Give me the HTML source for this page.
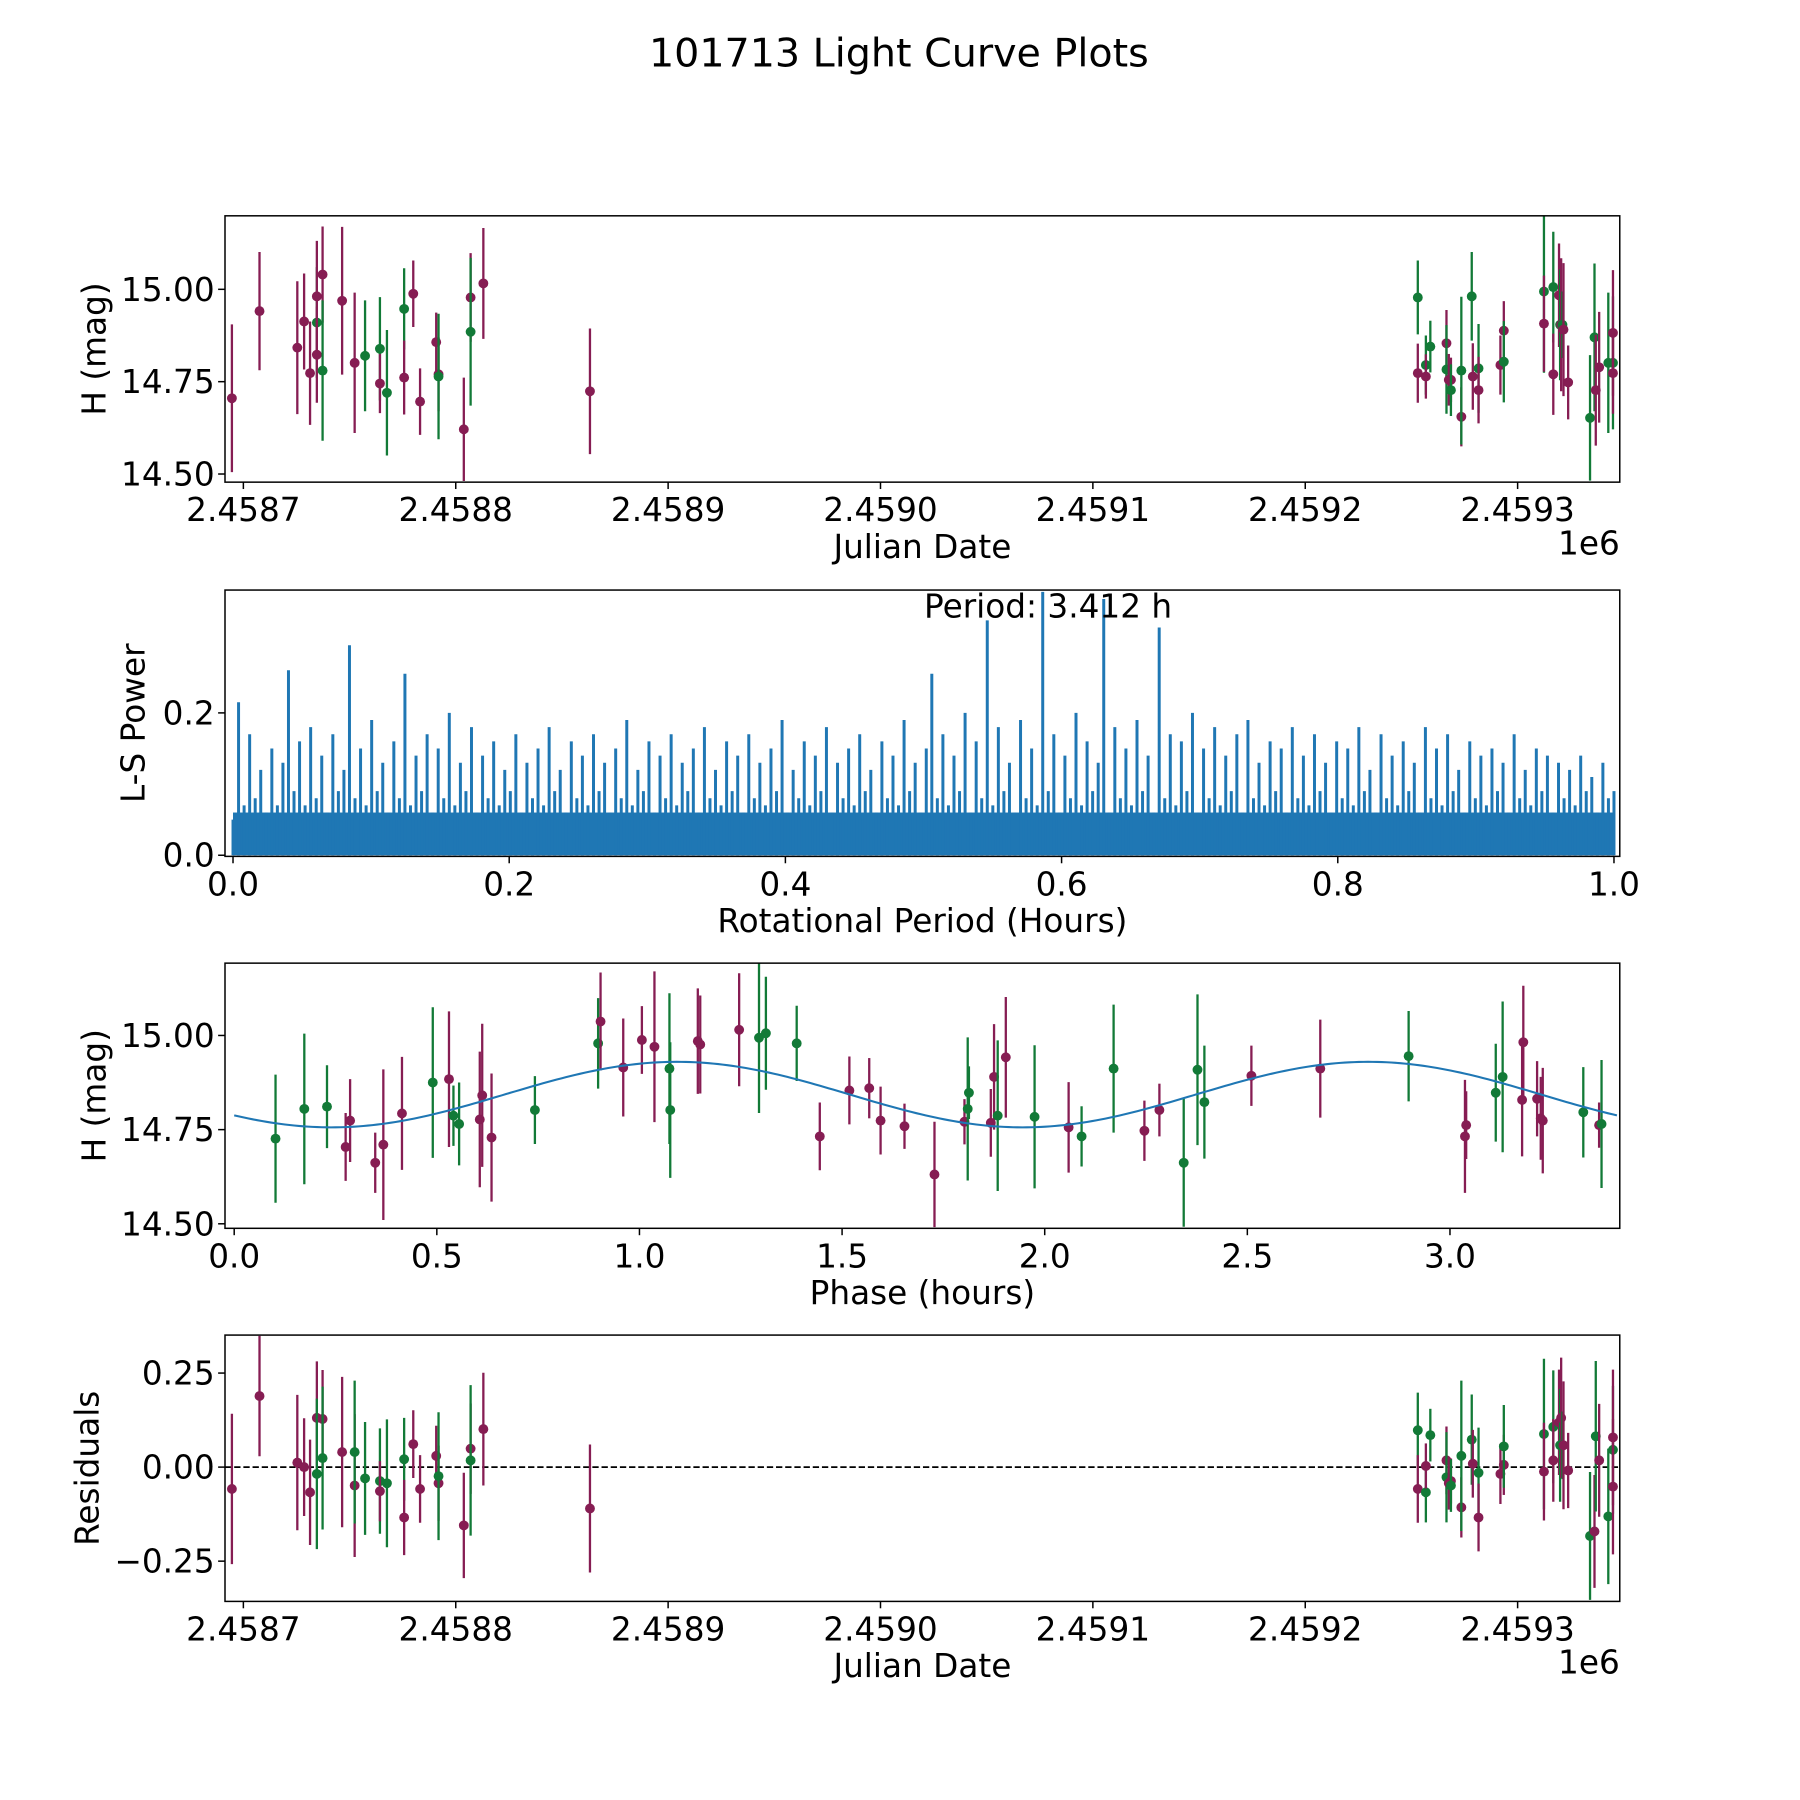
<!DOCTYPE html>
<html><head><meta charset="utf-8"><style>
html,body{margin:0;padding:0;background:#fff}
svg{display:block}
text{font-family:"DejaVu Sans","Liberation Sans",sans-serif;fill:#000}
</style></head><body>
<svg id="fig" xmlns="http://www.w3.org/2000/svg" width="1800" height="1800" viewBox="0 0 1568 1568">
<rect x="0" y="0" width="1568" height="1568" fill="#fff"/>
<text x="783" y="58" font-size="34.5" text-anchor="middle">101713 Light Curve Plots</text>
</svg>
<script>
// ---- data ----
const jdTickVals=[0,100,200,300,400,500,600];
const jdTickLabels=["2.4587","2.4588","2.4589","2.4590","2.4591","2.4592","2.4593"];
const magTickVals=[14.5,14.75,15.0];
const magTickLabels=["14.50","14.75","15.00"];
const lsTickVals=[0,0.2,0.4,0.6,0.8,1.0];
const lsTickLabels=["0.0","0.2","0.4","0.6","0.8","1.0"];
const lsYTickVals=[0,0.2];
const lsYTickLabels=["0.0","0.2"];
const phaseTickVals=[0,0.5,1,1.5,2,2.5,3];
const phaseTickLabels=["0.0","0.5","1.0","1.5","2.0","2.5","3.0"];
const resTickVals=[-0.25,0,0.25];
const resTickLabels=["\u22120.25","0.00","0.25"];
// light curve: [days since 2458700, mag, err, band]
const lightCurve=[[-5.4,14.705,.2,'r'],[7.6,14.941,.16,'r'],[25.4,14.842,.18,'r'],[28.6,14.913,.13,'r'],[31.4,14.773,.14,'r'],[34.6,14.910,.15,'g'],[34.6,14.981,.15,'r'],[34.6,14.823,.13,'r'],[37.3,15.040,.13,'r'],[37.3,14.780,.19,'g'],[46.5,14.969,.2,'r'],[52.4,14.801,.19,'r'],[57.3,14.820,.15,'g'],[64.3,14.839,.14,'g'],[64.3,14.745,.08,'r'],[67.6,14.720,.17,'g'],[75.7,14.947,.11,'g'],[75.7,14.761,.1,'r'],[80.0,14.988,.09,'r'],[83.2,14.696,.09,'r'],[90.8,14.857,.08,'r'],[91.9,14.770,.1,'r'],[91.9,14.764,.17,'g'],[103.8,14.621,.14,'r'],[107.0,14.978,.12,'r'],[107.0,14.885,.2,'g'],[113.0,15.016,.15,'r'],[163.2,14.724,.17,'r'],
[553.0,14.978,.1,'g'],[553.0,14.773,.08,'r'],[556.8,14.795,.08,'g'],[556.8,14.764,.06,'r'],[558.9,14.845,.07,'g'],[566.5,14.854,.09,'r'],[566.5,14.783,.12,'g'],[567.6,14.755,.07,'r'],[568.6,14.755,.06,'r'],[568.6,14.727,.07,'g'],[573.5,14.655,.08,'r'],[573.5,14.780,.2,'g'],[578.4,14.981,.12,'g'],[578.9,14.764,.09,'r'],[581.6,14.786,.12,'g'],[581.6,14.727,.09,'r'],[591.9,14.795,.08,'r'],[593.5,14.888,.08,'r'],[593.5,14.804,.11,'g'],[612.4,14.994,.22,'g'],[612.4,14.907,.13,'r'],[616.8,15.006,.15,'g'],[616.8,14.770,.11,'r'],[619.5,14.984,.14,'r'],[620.0,14.904,.15,'g'],[620.5,14.904,.18,'r'],[621.1,14.904,.09,'g'],[621.6,14.891,.18,'r'],[623.8,14.748,.1,'r'],[634.1,14.652,.17,'g'],[636.2,14.870,.2,'g'],[636.8,14.727,.15,'r'],[638.4,14.789,.15,'r'],[642.7,14.801,.19,'g'],[644.9,14.801,.18,'g'],[644.9,14.882,.17,'r'],[644.9,14.773,.11,'r']];
// periodogram power sampled uniformly over 0..1 h
const lsPower=[.05,.215,.07,.17,.08,.12,.06,.15,.07,.13,.26,.09,.16,.07,.18,.08,.14,.06,.17,.09,.12,.295,.08,.15,.07,.19,.09,.13,.06,.16,.08,.255,.07,.14,.09,.17,.06,.15,.08,.2,.07,.13,.09,.18,.06,.14,.08,.16,.07,.12,.09,.17,.06,.13,.08,.15,.07,.18,.09,.12,.06,.16,.08,.14,.07,.17,.09,.13,.06,.15,.08,.19,.07,.12,.09,.16,.06,.14,.08,.17,.07,.13,.09,.15,.06,.18,.08,.12,.07,.16,.09,.14,.06,.17,.08,.13,.07,.15,.09,.19,.06,.12,.08,.16,.07,.14,.09,.18,.06,.13,.08,.15,.07,.17,.09,.12,.06,.16,.08,.14,.07,.19,.09,.13,.06,.15,.255,.08,.17,.07,.14,.09,.2,.06,.16,.08,.33,.07,.18,.09,.13,.06,.19,.08,.15,.07,.37,.09,.17,.06,.14,.08,.2,.07,.16,.09,.13,.36,.06,.18,.08,.15,.07,.19,.09,.14,.06,.32,.08,.17,.07,.16,.09,.2,.06,.15,.08,.18,.07,.14,.09,.17,.06,.19,.08,.13,.07,.16,.09,.15,.06,.18,.08,.14,.07,.17,.09,.13,.06,.16,.08,.15,.07,.18,.09,.12,.06,.17,.08,.14,.07,.16,.09,.13,.06,.18,.08,.15,.07,.17,.09,.12,.06,.16,.08,.14,.07,.15,.09,.13,.06,.17,.08,.12,.07,.15,.09,.14,.06,.13,.08,.12,.07,.14,.09,.11,.06,.13,.08,.09];
const lsFloor=[0.06];
const periodText="Period: 3.412 h";
// phased: [phase h, mag, err, band]
const phased=[[0.102,14.726,.17,'g'],[0.173,14.805,.2,'g'],[0.229,14.811,.11,'g'],[0.275,14.704,.09,'r'],[0.286,14.774,.11,'r'],[0.348,14.662,.08,'r'],[0.368,14.710,.2,'r'],[0.414,14.793,.15,'r'],[0.490,14.875,.2,'g'],[0.530,14.884,.18,'r'],[0.541,14.787,.08,'g'],[0.555,14.765,.11,'g'],[0.606,14.777,.18,'r'],[0.612,14.841,.19,'r'],[0.635,14.729,.17,'r'],[0.742,14.802,.09,'g'],[0.898,14.979,.12,'g'],[0.904,15.037,.13,'r'],[0.960,14.915,.13,'r'],[1.006,14.988,.09,'r'],[1.037,14.970,.2,'r'],[1.074,14.912,.2,'g'],[1.076,14.802,.18,'g'],[1.144,14.985,.14,'r'],[1.150,14.976,.13,'r'],[1.246,15.015,.15,'r'],[1.295,14.994,.2,'g'],[1.312,15.006,.15,'g'],[1.388,14.979,.1,'g'],[1.445,14.732,.09,'r'],[1.518,14.854,.09,'r'],[1.567,14.860,.08,'r'],[1.595,14.774,.09,'r'],[1.654,14.759,.06,'r'],[1.728,14.631,.14,'r'],[1.802,14.771,.06,'r'],[1.810,14.805,.19,'g'],[1.813,14.848,.07,'g'],[1.867,14.768,.09,'r'],[1.875,14.890,.14,'r'],[1.884,14.787,.2,'g'],[1.904,14.942,.16,'r'],[1.975,14.784,.19,'g'],[2.059,14.756,.12,'r'],[2.091,14.732,.08,'g'],[2.170,14.912,.17,'g'],[2.246,14.747,.08,'r'],[2.283,14.802,.07,'r'],[2.343,14.662,.17,'g'],[2.377,14.909,.2,'g'],[2.394,14.823,.15,'g'],[2.510,14.893,.08,'r'],[2.680,14.912,.13,'r'],[2.898,14.945,.12,'g'],[3.037,14.732,.15,'r'],[3.040,14.762,.09,'r'],[3.113,14.848,.13,'g'],[3.130,14.890,.2,'g'],[3.178,14.829,.15,'r'],[3.181,14.982,.15,'r'],[3.215,14.832,.1,'r'],[3.224,14.780,.11,'r'],[3.229,14.774,.14,'r'],[3.329,14.796,.12,'g'],[3.368,14.762,.06,'r'],[3.374,14.765,.17,'g']];
const modelMean=[14.843];
const modelAmp=[0.087];
const modelPeriod=[1.706];
const modelMinPhase=[0.24];
// residuals: [days since 2458700, residual, err, band]
const residuals=[[-5.4,-0.058,.2,'r'],[7.6,0.189,.16,'r'],[25.4,0.012,.18,'r'],[28.6,0.0,.13,'r'],[31.4,-0.067,.14,'r'],[34.6,0.131,.15,'r'],[34.6,-0.018,.2,'g'],[37.3,0.128,.13,'r'],[37.3,0.024,.19,'g'],[46.5,0.040,.2,'r'],[52.4,-0.049,.19,'r'],[52.4,0.040,.19,'g'],[57.3,-0.030,.15,'g'],[64.3,-0.037,.14,'g'],[64.3,-0.064,.08,'r'],[67.6,-0.043,.17,'g'],[75.7,0.021,.11,'g'],[75.7,-0.134,.1,'r'],[80.0,0.061,.09,'r'],[83.2,-0.058,.09,'r'],[90.8,0.030,.08,'r'],[91.9,-0.043,.1,'r'],[91.9,-0.024,.17,'g'],[103.8,-0.155,.14,'r'],[107.0,0.049,.12,'r'],[107.0,0.018,.2,'g'],[113.0,0.101,.15,'r'],[163.2,-0.110,.17,'r'],
[553.0,0.098,.1,'g'],[553.0,-0.058,.09,'r'],[556.8,-0.067,.08,'g'],[556.8,0.003,.06,'r'],[558.9,0.085,.07,'g'],[566.5,0.018,.09,'r'],[566.5,-0.027,.12,'g'],[567.6,-0.043,.07,'r'],[568.6,-0.037,.06,'r'],[568.6,-0.049,.07,'g'],[573.5,-0.107,.08,'r'],[573.5,0.030,.2,'g'],[578.4,0.073,.12,'g'],[578.9,0.009,.09,'r'],[581.6,-0.015,.12,'g'],[581.6,-0.134,.09,'r'],[591.9,-0.018,.08,'r'],[593.5,0.006,.08,'r'],[593.5,0.055,.11,'g'],[612.4,0.088,.2,'g'],[612.4,-0.012,.13,'r'],[616.8,0.107,.15,'g'],[616.8,0.018,.11,'r'],[619.5,0.119,.14,'r'],[620.0,0.058,.15,'g'],[620.5,0.131,.16,'r'],[621.1,0.058,.09,'g'],[621.6,0.058,.17,'r'],[623.8,-0.009,.1,'r'],[634.1,-0.183,.17,'g'],[636.2,-0.171,.15,'r'],[636.8,0.082,.2,'g'],[638.4,0.018,.15,'r'],[642.7,-0.131,.18,'g'],[644.9,0.046,.17,'g'],[644.9,-0.052,.18,'r'],[644.9,0.079,.18,'r']];

// ---- drawing ----
const NS="http://www.w3.org/2000/svg";
const svg=document.getElementById('fig');
const COL={r:'#861d53',g:'#127a37'};
const TICK_FS=28.5, LABEL_FS=28.5;
function mk(tag,attrs,parent){const e=document.createElementNS(NS,tag);for(const k in attrs)e.setAttribute(k,attrs[k]);(parent||svg).appendChild(e);return e;}
function panel(name,box,xd,yd){
  const g=mk('g',{});
  
  
  const sx=v=>box.x0+(v-xd[0])/(xd[1]-xd[0])*(box.x1-box.x0);
  const sy=v=>box.y1-(v-yd[0])/(yd[1]-yd[0])*(box.y1-box.y0);
  const clip=mk('clipPath',{id:'c'+name},g);
  mk('rect',{x:box.x0,y:box.y0,width:box.x1-box.x0,height:box.y1-box.y0},clip);
  const plot=mk('g',{'clip-path':'url(#c'+name+')'},g);
  return {g,plot,sx,sy,box};
}
function frame(P,xv,xl,yv,yl,xlabel,ylabel,ylx,extra){
  const b=P.box;
  const ax=mk('g',{},P.g);
  
  
  xv.forEach((v,i)=>{const x=P.sx(v);
    mk('line',{x1:x,x2:x,y1:b.y1,y2:b.y1+6,stroke:'#000','stroke-width':1.3},ax);
    const t=mk('text',{x:x,y:b.y1+34,'font-size':TICK_FS,'text-anchor':'middle'},ax);t.textContent=xl[i];
    
    });
  const ay=mk('g',{},P.g);
  
  
  yv.forEach((v,i)=>{const y=P.sy(v);
    mk('line',{x1:b.x0-6,x2:b.x0,y1:y,y2:y,stroke:'#000','stroke-width':1.3},ay);
    const t=mk('text',{x:b.x0-9,y:y+10,'font-size':TICK_FS,'text-anchor':'end'},ay);t.textContent=yl[i];
    
    });
  mk('rect',{x:b.x0,y:b.y0,width:b.x1-b.x0,height:b.y1-b.y0,fill:'none',stroke:'#000','stroke-width':1.3},P.g);
  const xt=mk('text',{x:(b.x0+b.x1)/2,y:b.y1+66,'font-size':LABEL_FS,'text-anchor':'middle'},P.g);xt.textContent=xlabel;
  
  
  const cy=(b.y0+b.y1)/2;
  const yt=mk('text',{x:ylx,y:cy,'font-size':LABEL_FS,'text-anchor':'middle',transform:`rotate(-90 ${ylx} ${cy})`},P.g);yt.textContent=ylabel;
  
  
  if(extra){const e=mk('text',{x:b.x1,y:b.y1+63,'font-size':LABEL_FS,'text-anchor':'end'},P.g);e.textContent=extra;
    
    }
}
function points(P,data){
  data.forEach(d=>{
    const x=P.sx(d[0]),y=P.sy(d[1]);
    const pg=mk('g',{},P.plot);
    
    
    mk('line',{x1:x,x2:x,y1:P.sy(d[1]-d[2]),y2:P.sy(d[1]+d[2]),stroke:COL[d[3]],'stroke-width':2},pg);
    mk('circle',{cx:x,cy:y,r:4.3,fill:COL[d[3]]},pg);
  });
}
const X0=196,X1=1411;
// Panel 1
const P1=panel('light-curve-panel',{x0:X0,x1:X1,y0:188,y1:420},[-8.65,648.1],[14.478,15.199]);
points(P1,lightCurve);
frame(P1,jdTickVals,jdTickLabels,magTickVals,magTickLabels,'Julian Date','H (mag)',92,'1e6');
// Panel 2
const P2=panel('periodogram-panel',{x0:X0,x1:X1,y0:514,y1:746},[-0.0058,1.0042],[-0.0016,0.3726]);
(function(){
  const n=lsPower.length;
  const f=mk('rect',{x:P2.sx(0),y:P2.sy(lsFloor[0]),width:P2.sx(1)-P2.sx(0),height:P2.sy(0)-P2.sy(lsFloor[0]),fill:'#1f77b4'},P2.plot);
  
  
  let d='';
  lsPower.forEach((v,i)=>{const x=P2.sx(i/(n-1)).toFixed(2);d+=`M${x} ${P2.sy(0).toFixed(2)} L${x} ${P2.sy(v).toFixed(2)} `;});
  const p=mk('path',{d:d,fill:'none',stroke:'#1f77b4','stroke-width':2.6},P2.plot);
  
  
})();
frame(P2,lsTickVals,lsTickLabels,lsYTickVals,lsYTickLabels,'Rotational Period (Hours)','L-S Power',126);
const pt=mk('text',{x:913,y:538,'font-size':LABEL_FS,'text-anchor':'middle'},P2.g);pt.textContent=periodText;


// Panel 3
const P3=panel('phased-curve-panel',{x0:X0,x1:X1,y0:839,y1:1070},[-0.0227,3.419],[14.488,15.192]);
points(P3,phased);
(function(){
  let d='';const N=300,maxP=3.412;
  for(let i=0;i<=N;i++){const t=maxP*i/N;const m=modelMean[0]-modelAmp[0]*Math.cos(2*Math.PI*(t-modelMinPhase[0])/modelPeriod[0]);
    d+=(i?' L':'M')+P3.sx(t).toFixed(2)+' '+P3.sy(m).toFixed(2);}
  const p=mk('path',{d:d,fill:'none',stroke:'#1f77b4','stroke-width':1.8},P3.plot);
  
  
})();
frame(P3,phaseTickVals,phaseTickLabels,magTickVals,magTickLabels,'Phase (hours)','H (mag)',92);
// Panel 4
const P4=panel('residuals-panel',{x0:X0,x1:X1,y0:1163,y1:1395},[-8.65,648.1],[-0.357,0.351]);
(function(){const z=mk('line',{x1:X0,x2:X1,y1:P4.sy(0),y2:P4.sy(0),stroke:'#000','stroke-width':1.5,'stroke-dasharray':'5.5,2.5'},P4.plot);
  
  })();
points(P4,residuals);
frame(P4,jdTickVals,jdTickLabels,resTickVals,resTickLabels,'Julian Date','Residuals',86,'1e6');
</script>
</body></html>
